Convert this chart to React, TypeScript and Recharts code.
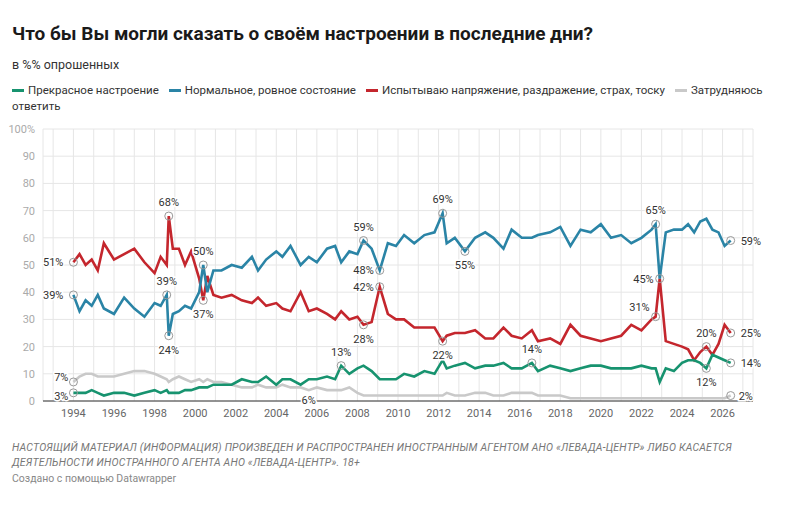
import React from "react";
import { LineChart, Line, XAxis, YAxis, CartesianGrid, ReferenceDot } from "recharts";

const years = [1994.0,1994.3,1994.6,1994.9,1995.2,1995.5,1996.0,1996.5,1997.0,1997.5,1998.0,1998.3,1998.6,1998.7,1998.9,1999.2,1999.5,1999.8,2000.2,2000.4,2000.6,2000.9,2001.3,2001.8,2002.3,2002.8,2003.1,2003.5,2004.0,2004.3,2004.7,2005.2,2005.6,2006.0,2006.5,2006.9,2007.2,2007.6,2008.0,2008.3,2008.7,2009.1,2009.5,2009.9,2010.3,2010.8,2011.3,2011.8,2012.2,2012.4,2012.8,2013.3,2013.8,2014.3,2014.7,2015.2,2015.6,2016.1,2016.6,2016.9,2017.5,2018.0,2018.5,2019.0,2019.5,2020.0,2020.5,2021.0,2021.5,2022.0,2022.5,2022.7,2022.9,2023.2,2023.6,2024.0,2024.3,2024.6,2024.9,2025.2,2025.5,2025.8,2026.1,2026.4];
const good = [3,3,3,4,3,2,3,3,2,3,4,3,4,3,3,3,4,4,5,5,5,6,6,6,8,7,7,9,6,8,8,6,8,8,9,8,13,10,12,13,11,8,8,8,10,9,11,10,15,12,13,14,12,13,13,14,12,12,14,11,13,12,11,12,13,13,12,12,12,13,12,12,7,12,11,14,15,15,14,12,17,16,15,14];
const normal = [39,33,37,35,39,34,32,38,34,31,36,35,39,24,32,33,35,34,40,50,40,48,48,50,49,53,48,52,55,53,57,50,53,51,56,57,51,55,54,59,56,48,58,57,61,58,61,62,69,58,60,55,60,62,60,56,63,60,60,61,62,64,57,63,62,65,60,61,58,60,63,65,45,62,63,63,65,62,66,67,63,62,57,59];
const tense = [51,54,50,52,48,58,52,54,56,51,47,53,50,68,56,56,50,55,45,37,46,39,38,39,37,36,38,35,36,34,33,40,33,34,32,30,33,30,31,28,29,42,32,30,30,27,27,27,22,24,25,25,26,23,23,27,24,23,26,22,23,21,28,24,23,22,23,24,28,26,30,31,45,22,21,20,19,15,18,20,17,21,28,25];
const unsure = [7,9,10,10,9,9,9,10,11,11,10,9,8,7,8,9,8,7,8,7,8,7,7,6,5,5,6,5,5,6,5,5,4,5,4,4,4,5,3,2,2,2,2,2,2,2,2,2,2,3,2,2,3,3,2,2,3,3,3,2,2,2,1,1,1,1,1,1,1,1,1,1,1,1,1,1,1,1,1,1,1,1,1,2];

const seriesNames = ["Прекрасное настроение", "Нормальное, ровное состояние", "Испытываю напряжение, раздражение, страх, тоску", "Затрудняюсь"];
const legendWrap = "ответить";
const colors = ["#17936f", "#2a84a6", "#c4262d", "#c9c9c9"];
const keys = ["good", "normal", "tense", "unsure"];

const data = years.map((y, i) => ({ year: y, good: good[i], normal: normal[i], tense: tense[i], unsure: unsure[i] }));

const yTicks = [0,10,20,30,40,50,60,70,80,90,100];
const xTicks = Array.from({ length: 35 }, (_, i) => 1993 + i);

const notes: [number, number, string, number, number][] = [
  [1994.0, 51, "51%", -22, 4],
  [1994.0, 39, "39%", -22, 4],
  [1994.0, 7, "7%", -17, -1],
  [1994.0, 3, "3%", -17, 7],
  [1998.7, 68, "68%", 0, -10],
  [1998.6, 39, "39%", 0, -10],
  [1998.7, 24, "24%", 0, 18],
  [2000.4, 50, "50%", 0, -10],
  [2000.4, 37, "37%", 0, 18],
  [2005.6, 0.3, "6%", 0, 4],
  [2007.2, 13, "13%", 0, -10],
  [2008.3, 59, "59%", 0, -10],
  [2008.3, 28, "28%", 0, 18],
  [2009.1, 48, "48%", -18, 4],
  [2009.1, 42, "42%", -18, 4],
  [2012.2, 69, "69%", 0, -10],
  [2012.2, 22, "22%", 0, 18],
  [2013.3, 55, "55%", 0, 18],
  [2016.6, 14, "14%", 0, -10],
  [2022.7, 65, "65%", 0, -10],
  [2022.9, 45, "45%", -18, 4],
  [2022.7, 31, "31%", -18, -6],
  [2025.2, 20, "20%", 0, -10],
  [2025.2, 12, "12%", 0, 18],
  [2026.4, 59, "59%", 20, 4],
  [2026.4, 25, "25%", 20, 4],
  [2026.4, 14, "14%", 20, 4],
  [2026.4, 2, "2%", 18, 4],
];

const NoteLabel = (p: any) => {
  const { viewBox, text, dx, dy } = p;
  const cx = viewBox.x + viewBox.width / 2;
  const cy = viewBox.y + viewBox.height / 2;
  const anchor = dx < 0 ? "end" : dx > 0 ? "start" : "middle";
  return (
    <text x={cx + (dx < 0 ? dx + 12 : dx > 0 ? dx - 10 : 0)} y={cy + dy} textAnchor={anchor} fontSize={11} fill="#333" fontFamily="Roboto, sans-serif"
      stroke="#fff" strokeWidth={3} paintOrder="stroke">{text}</text>
  );
};

export default function App() {
  return (
    <div style={{ position: "fixed", left: 0, top: 0, width: 800, height: 521, background: "#fff", fontFamily: "Roboto, sans-serif" }}>
      <div style={{ position: "absolute", left: 12, top: 22, fontSize: 19, fontWeight: 700, color: "#1a1a1a" }}>Что бы Вы могли сказать о своём настроении в последние дни?</div>
      <div style={{ position: "absolute", left: 12, top: 57, fontSize: 12.5, color: "#333" }}>в %% опрошенных</div>
      <div style={{ position: "absolute", left: 12, top: 82, width: 780, fontSize: 11.5, color: "#333", lineHeight: "16px", whiteSpace: "nowrap" }}>
        {seriesNames.map((n, i) => (
          <React.Fragment key={i}>
            <span style={{ display: "inline-block", width: 12, height: 3, background: colors[i], verticalAlign: "middle", marginRight: 4 }} />
            <span style={{ marginRight: 10 }}>{n}</span>
          </React.Fragment>
        ))}
      </div>
      <div style={{ position: "absolute", left: 12, top: 98, fontSize: 11.5, color: "#333", lineHeight: "16px" }}>{legendWrap}</div>
      <div style={{ position: "absolute", left: 0, top: 0 }}>
        <LineChart width={800} height={435} data={data} margin={{ top: 129, left: 6, right: 47, bottom: 4 }}>
          <CartesianGrid stroke="#e6e6e6" />
          <XAxis dataKey="year" type="number" domain={[1992.5, 2027.5]} ticks={xTicks} interval={0}
            tickFormatter={(v: number) => (v % 2 === 0 && v >= 1994 && v <= 2026 ? String(v) : "")}
            tick={{ fontSize: 11, fill: "#666" }} tickLine={false} axisLine={{ stroke: "#333" }} />
          <YAxis type="number" domain={[0, 100]} ticks={yTicks} width={37}
            tickFormatter={(v: number) => (v === 100 ? "100%" : String(v))}
            tick={{ fontSize: 11, fill: "#aaa" }} tickLine={false} axisLine={false} />
          {keys.slice().reverse().map((k, j) => {
            const i = 3 - j;
            return <Line key={k} dataKey={k} type="linear" stroke={colors[i]} strokeWidth={2.6} dot={false} isAnimationActive={false} />;
          })}
          {notes.map(([x, y, t, dx, dy], i) => (
            <ReferenceDot key={i} x={x} y={y} r={4} fill="none" stroke={t === "6%" ? "none" : "#999"} strokeWidth={1}
              label={<NoteLabel text={t} dx={dx} dy={dy} />} />
          ))}
        </LineChart>
      </div>
      <div style={{ position: "absolute", left: 12, top: 440, width: 770, fontSize: 10.5, fontStyle: "italic", color: "#777", lineHeight: "15px", letterSpacing: 0.2 }}>
        НАСТОЯЩИЙ МАТЕРИАЛ (ИНФОРМАЦИЯ) ПРОИЗВЕДЕН И РАСПРОСТРАНЕН ИНОСТРАННЫМ АГЕНТОМ АНО «ЛЕВАДА-ЦЕНТР» ЛИБО КАСАЕТСЯ ДЕЯТЕЛЬНОСТИ ИНОСТРАННОГО АГЕНТА АНО «ЛЕВАДА-ЦЕНТР». 18+
      </div>
      <div style={{ position: "absolute", left: 12, top: 472, fontSize: 10.5, color: "#888" }}>Создано с помощью Datawrapper</div>
    </div>
  );
}
